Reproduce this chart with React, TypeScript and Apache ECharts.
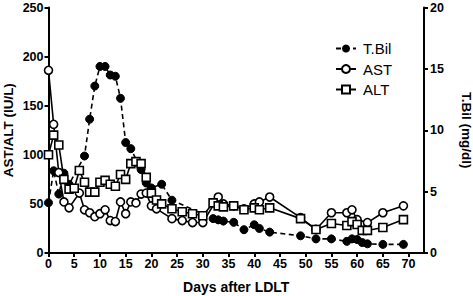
import React, { useEffect, useRef } from "react";
import * as echarts from "echarts";

const xTickValues = [0, 5, 10, 15, 20, 25, 30, 35, 40, 45, 50, 55, 60, 65, 70];

const tbilDays = [0, 1, 2, 3, 4, 7, 8, 9, 10, 11, 12, 13, 14, 15, 16, 18, 19, 20, 22, 24, 32, 33, 34, 36, 38, 40, 41, 43, 49, 52, 55, 58, 59, 60, 61, 62, 65, 69];
const tbilValues = [4.1, 6.7, 4.8, 6.5, 5.6, 7.9, 10.9, 13.6, 15.2, 15.2, 14.5, 14.4, 12.6, 9.0, 8.5, 6.8, 5.7, 5.3, 5.6, 4.3, 2.8, 2.7, 2.6, 2.5, 1.9, 2.3, 2.0, 1.7, 1.4, 1.15, 1.15, 0.95, 1.15, 1.1, 0.85, 0.75, 0.7, 0.7];

const astDays = [0, 1, 2, 3, 4, 6, 7, 8, 9, 10, 11, 12, 13, 14, 15, 16, 17, 18, 19, 20, 21, 24, 26, 28, 30, 33, 34, 36, 38, 40, 41, 43, 49, 52, 55, 58, 59, 60, 62, 65, 69];
const astValues = [186, 131, 82, 52, 46, 61, 44, 41, 37, 40, 44, 33, 32, 52, 40, 52, 51, 60, 61, 48, 45, 35, 33, 31, 31, 57, 50, 48, 45, 50, 52, 57, 36, 24, 41, 41, 44, 34, 31, 41, 48];

const altDays = [0, 1, 2, 3, 4, 5, 6, 7, 8, 9, 10, 11, 12, 13, 14, 15, 16, 17, 18, 19, 20, 21, 22, 24, 26, 28, 30, 32, 33, 34, 36, 38, 40, 41, 43, 49, 52, 55, 58, 59, 60, 61, 62, 65, 69];
const altValues = [100, 120, 110, 75, 65, 66, 84, 72, 62, 62, 72, 74, 70, 68, 80, 75, 91, 93, 91, 77, 61, 54, 50, 45, 42, 40, 38, 51, 48, 47, 48, 44, 46, 44, 46, 35, 24, 30, 28, 32, 29, 23, 23, 26, 34];

const pairs = (xs: number[], ys: number[]) => xs.map((x, i) => [x, ys[i]]);

const FONT = "'Liberation Sans', Arial, Helvetica, sans-serif";

export default function App() {
  const ref = useRef<HTMLDivElement>(null);
  useEffect(() => {
    if (!ref.current) return;
    const chart = echarts.init(ref.current, undefined, { renderer: "svg" });
    const axisLine = { show: true, lineStyle: { color: "#000", width: 2 } };
    const axisTick = { show: true, inside: false, length: 4, lineStyle: { color: "#000", width: 2 } };
    const labelStyle = { color: "#000", fontFamily: FONT, fontWeight: "bold" as const, fontSize: 12.5, lineHeight: 10 };
    const nameStyle = { color: "#000", fontFamily: FONT, fontWeight: "bold" as const, fontSize: 13.5, lineHeight: 13 };
    chart.setOption({
      animation: false,
      backgroundColor: "#fff",
      grid: { left: 48.5, right: 49, top: 7.5, bottom: 43, containLabel: false, outerBoundsMode: "none" },
      legend: {
        orient: "vertical",
        left: 330,
        top: 36,
        itemWidth: 20,
        itemHeight: 10,
        itemGap: 5.5,
        data: ["T.Bil", "AST", "ALT"],
        textStyle: { color: "#000", fontFamily: FONT, fontSize: 15, lineHeight: 15, padding: [0, 0, 0, 2] },
      },
      xAxis: {
        type: "value",
        min: 0,
        max: 73,
        interval: 5,
        name: "Days after LDLT",
        nameLocation: "middle",
        nameGap: 27,
        nameMoveOverlap: false,
        nameTextStyle: { ...nameStyle, fontSize: 14 },
        axisLine,
        axisTick: { ...axisTick, customValues: xTickValues },
        axisLabel: { ...labelStyle, margin: 6, customValues: xTickValues, formatter: (v: number) => (v % 5 === 0 && v <= 70 ? String(v) : "") },
        splitLine: { show: false },
      },
      yAxis: [
        {
          type: "value",
          position: "left",
          min: 0,
          max: 250,
          interval: 50,
          name: "AST/ALT (IU/L)",
          nameLocation: "middle",
          nameGap: 34,
          nameMoveOverlap: false,
          nameRotate: 90,
          nameTextStyle: nameStyle,
          axisLine,
          axisTick,
          axisLabel: { ...labelStyle, margin: 5 },
          splitLine: { show: false },
        },
        {
          type: "value",
          position: "right",
          min: 0,
          max: 20,
          interval: 5,
          name: "T.Bil (mg/dl)",
          nameLocation: "middle",
          nameGap: 36,
          nameMoveOverlap: false,
          nameRotate: -90,
          nameTextStyle: nameStyle,
          axisLine,
          axisTick,
          axisLabel: { ...labelStyle, margin: 6 },
          splitLine: { show: false },
        },
      ],
      series: [
        {
          name: "T.Bil",
          type: "line",
          yAxisIndex: 1,
          data: pairs(tbilDays, tbilValues),
          symbol: "circle",
          symbolSize: 8,
          itemStyle: { color: "#000", borderColor: "#000" },
          lineStyle: { color: "#000", width: 1.6, type: [5, 3.5] },
          z: 2,
        },
        {
          name: "AST",
          type: "line",
          yAxisIndex: 0,
          data: pairs(astDays, astValues),
          symbol: "circle",
          symbolSize: 8,
          itemStyle: { color: "#fff", borderColor: "#000", borderWidth: 1.6 },
          lineStyle: { color: "#000", width: 1.6 },
          z: 3,
        },
        {
          name: "ALT",
          type: "line",
          yAxisIndex: 0,
          data: pairs(altDays, altValues),
          symbol: "rect",
          symbolSize: 8,
          itemStyle: { color: "#fff", borderColor: "#000", borderWidth: 1.6 },
          lineStyle: { color: "#000", width: 1.6 },
          z: 4,
        },
      ],
    });
    return () => chart.dispose();
  }, []);
  return <div ref={ref} style={{ position: "fixed", left: 0, top: 0, width: 473, height: 296, background: "#fff" }} />;
}
